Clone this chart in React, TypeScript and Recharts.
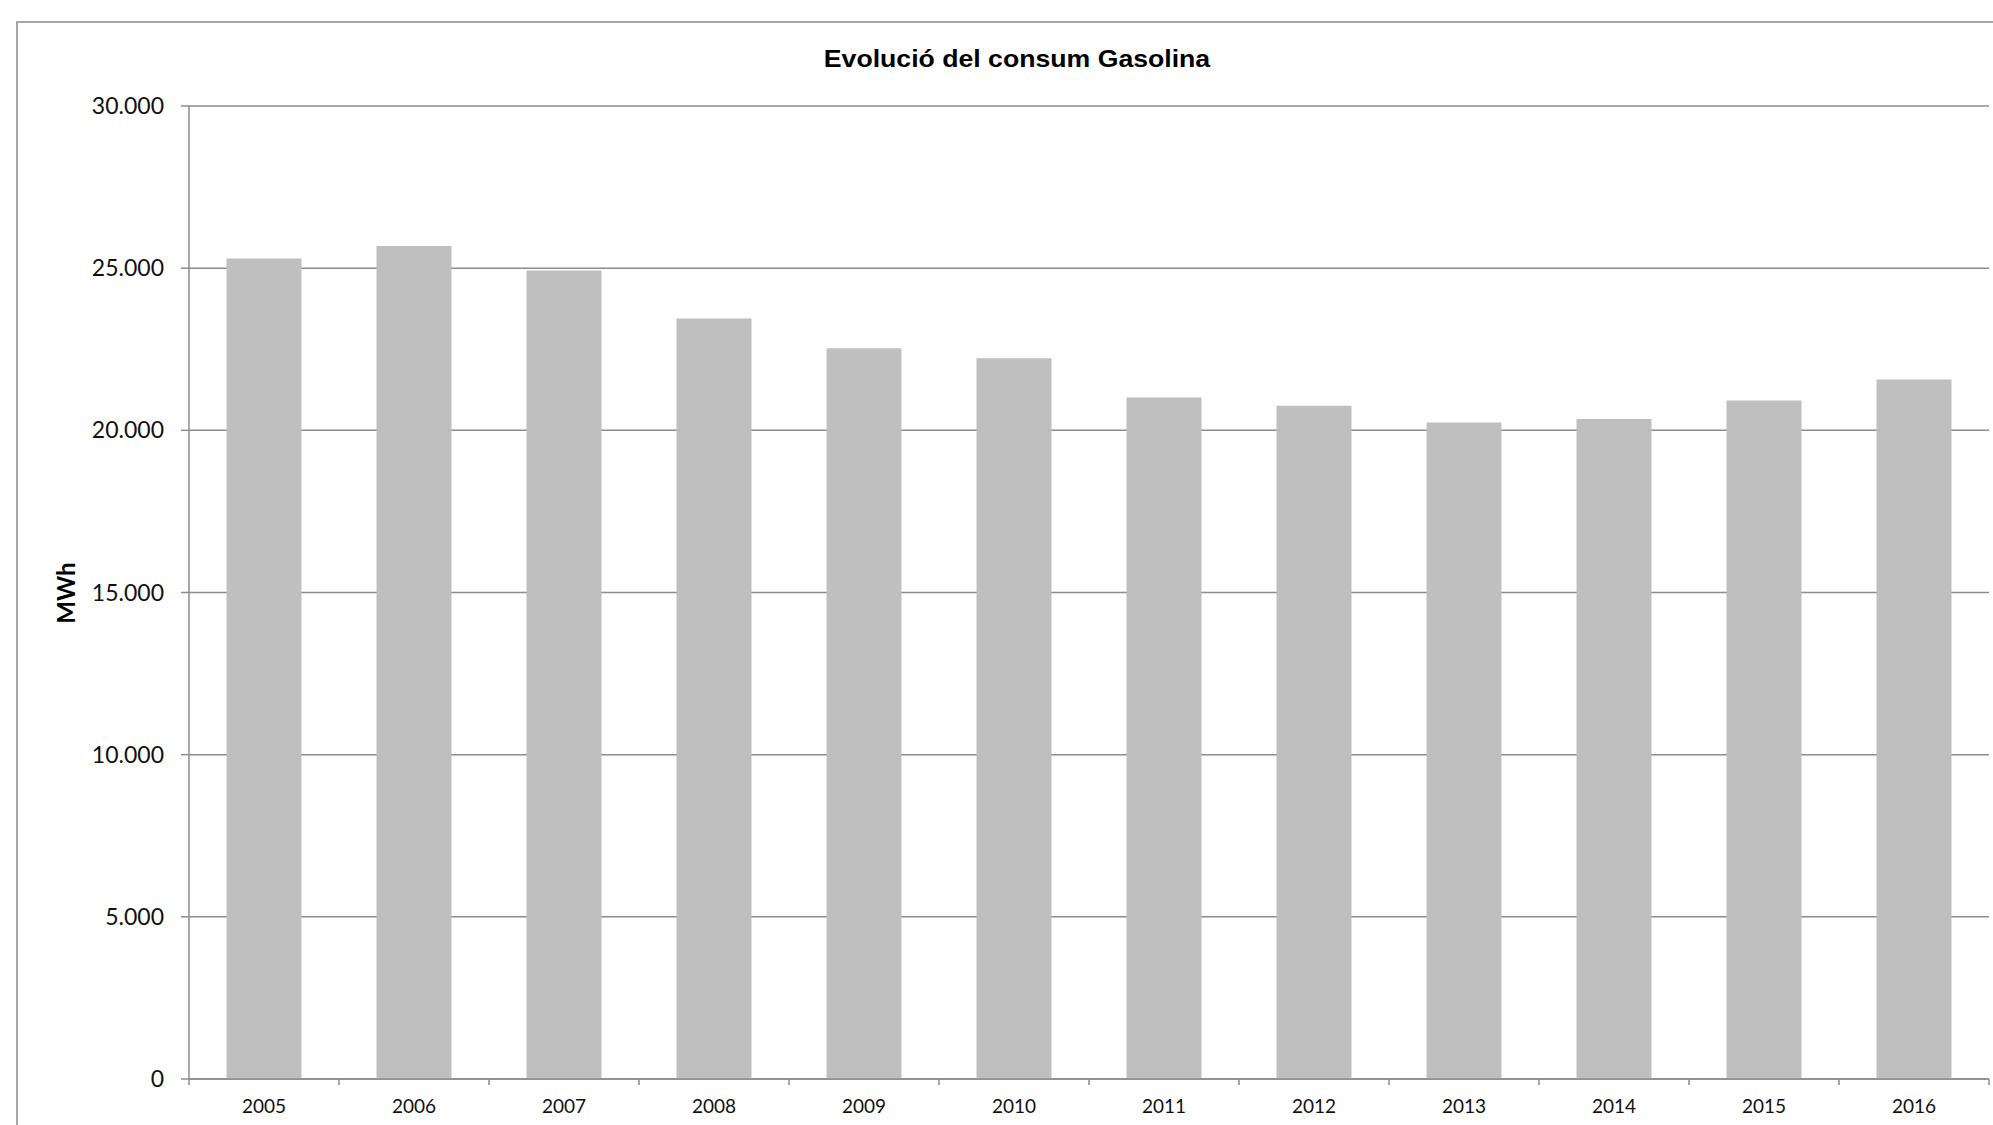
import React from 'react';
import { BarChart, Bar, XAxis, YAxis, CartesianGrid } from 'recharts';

const years = ['2005', '2006', '2007', '2008', '2009', '2010', '2011', '2012', '2013', '2014', '2015', '2016'];
const consum = [25300, 25680, 24930, 23450, 22530, 22220, 21010, 20760, 20240, 20350, 20920, 21570];
const yTicks = [0, 5000, 10000, 15000, 20000, 25000, 30000];

const data = years.map((year, i) => ({ year, consum: consum[i] }));

const GRID = '#8c8c8c';
const X_TICK_SIZE = 6;
const X_TICK_MARGIN = 15;

// 30000 -> "30.000"
const fmt = (v: number) => String(v).replace(/\B(?=(\d{3})+(?!\d))/g, '.');

// Excel style: tick marks sit between categories, label in the middle
const YearTick: React.FC<any> = ({ x, y, payload, index }) => {
  const half = payload?.offset || 75;
  const axisY = y - X_TICK_SIZE - X_TICK_MARGIN;
  const last = index === years.length - 1;
  return (
    <g>
      <line x1={x - half} x2={x - half} y1={axisY} y2={axisY + X_TICK_SIZE} stroke={GRID} strokeWidth={1.5} />
      {last && <line x1={x + half} x2={x + half} y1={axisY} y2={axisY + X_TICK_SIZE} stroke={GRID} strokeWidth={1.5} />}
      <text x={x} y={y} dy="0.71em" textAnchor="middle" fill="#111" fontSize={19} fontFamily="Lato">
        {payload.value}
      </text>
    </g>
  );
};

const App: React.FC = () => {
  return (
    <div style={{ position: 'absolute', left: 0, top: 0, width: 1993, height: 1125, background: '#fff', overflow: 'hidden' }}>
      {/* chart frame */}
      <div style={{ position: 'absolute', left: 16, top: 21, width: 2100, height: 1300, border: '2px solid #a6a6a6' }} />

      <div style={{ position: 'absolute', left: 617, top: 47, width: 800, textAlign: 'center', fontFamily: '"Liberation Sans", Arial, sans-serif', fontWeight: 'bold', fontSize: 24, lineHeight: 1, color: '#000', transform: 'scaleX(1.11)', transformOrigin: 'center' }}>
        Evolució del consum Gasolina
      </div>

      <div style={{ position: 'absolute', left: 66, top: 593, transform: 'translate(-50%, -50%) rotate(-90deg)', fontFamily: 'Lato', fontWeight: 'bold', fontSize: 24, lineHeight: 1, color: '#000', whiteSpace: 'nowrap' }}>
        MWh
      </div>

      <div style={{ position: 'absolute', left: 0, top: 0 }}>
        <BarChart width={1993} height={1125} data={data} margin={{ top: 106, right: 4, left: 0, bottom: 0 }} barCategoryGap="25%">
          <CartesianGrid vertical={false} stroke={GRID} strokeWidth={1.5} />
          <XAxis
            dataKey="year"
            height={46}
            tickSize={X_TICK_SIZE}
            tickMargin={X_TICK_MARGIN}
            tickLine={false}
            axisLine={{ stroke: GRID, strokeWidth: 1.5 }}
            tick={<YearTick />}
            interval={0}
          />
          <YAxis
            width={189}
            domain={[0, 30000]}
            ticks={yTicks}
            interval={0}
            tickSize={8}
            tickMargin={17}
            tickFormatter={fmt}
            axisLine={{ stroke: GRID, strokeWidth: 1.5 }}
            tickLine={{ stroke: GRID, strokeWidth: 1.5 }}
            tick={{ fontSize: 23, fill: '#111', fontFamily: 'Lato' }}
          />
          <Bar dataKey="consum" fill="#bfbfbf" isAnimationActive={false} />
        </BarChart>
      </div>
    </div>
  );
};

export default App;
